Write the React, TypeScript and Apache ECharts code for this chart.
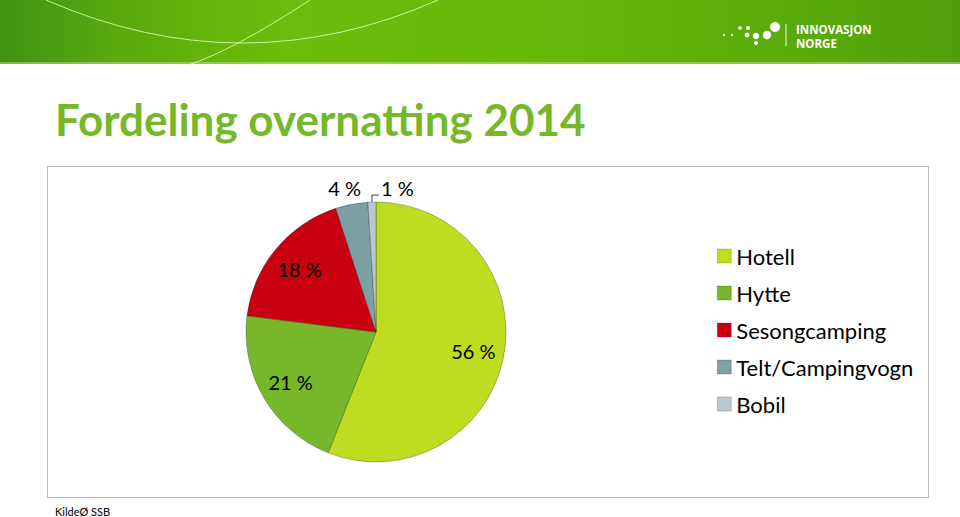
import React, { useEffect, useRef } from "react";
import * as echarts from "echarts";

const categories = ["Hotell", "Hytte", "Sesongcamping", "Telt/Campingvogn", "Bobil"];
const shares = [56, 21, 18, 4, 1];
const colors = ["#BEDD21", "#76B82A", "#C8000F", "#7F9FA6", "#B9C7D3"];
const titleText = "Fordeling overnatting 2014";
const sourceText = "KildeØ SSB";

const PIE_CX = 376;
const PIE_CY = 332;
const PIE_R = 130;
const FONT = "Lato, 'Open Sans', sans-serif";

function midAngle(i: number): number {
  const total = shares.reduce((a, b) => a + b, 0);
  let before = 0;
  for (let k = 0; k < i; k++) before += shares[k];
  return ((before + shares[i] / 2) / total) * Math.PI * 2;
}

function edgePoint(i: number): [number, number] {
  const a = midAngle(i);
  return [PIE_CX + PIE_R * Math.sin(a), PIE_CY - PIE_R * Math.cos(a)];
}

export default function App() {
  const ref = useRef<HTMLDivElement>(null);

  useEffect(() => {
    if (!ref.current) return;
    const chart = echarts.init(ref.current, null, { renderer: "svg" });

    const mainData = categories.map((name, i) => {
      const small = shares[i] < 10;
      return {
        name,
        value: shares[i],
        itemStyle: { color: colors[i] },
        label: { show: small, position: "outside" },
        labelLine: { show: i === 4 },
      };
    });

    const overlayData = categories.map((name, i) => ({
      name,
      value: shares[i],
      itemStyle: { color: "rgba(0,0,0,0)", borderWidth: 0 },
      label: { show: shares[i] >= 10 },
    }));

    const logoDots: [number, number, number][] = [
      [724, 35, 1.2],
      [732, 35, 1.2],
      [740, 28, 1.8],
      [748, 28, 2.0],
      [747, 35, 2.4],
      [756, 36, 3.2],
      [756, 43, 2.0],
      [767, 35, 4.2],
      [775, 27, 5.0],
    ];

    const option: any = {
      animation: false,
      backgroundColor: "#ffffff",
      legend: {
        orient: "vertical",
        left: 712,
        top: 240,
        itemWidth: 14,
        itemHeight: 14,
        itemGap: 15,
        icon: "rect",
        textStyle: { fontFamily: FONT, fontSize: 22, color: "#000", lineHeight: 22 },
        data: categories.map((name, i) => ({
          name,
          itemStyle: { color: colors[i], borderColor: "rgba(0,0,0,0.3)", borderWidth: 0.6 },
        })),
      },
      graphic: [
        {
          type: "rect",
          shape: { x: 0, y: 0, width: 960, height: 64 },
          style: {
            fill: new echarts.graphic.LinearGradient(0, 0, 1, 0, [
              { offset: 0, color: "#3F9313" },
              { offset: 0.12, color: "#58AA0E" },
              { offset: 0.3, color: "#6CBD0B" },
              { offset: 0.55, color: "#66B80A" },
              { offset: 0.8, color: "#5AAD0A" },
              { offset: 1, color: "#4F9F0C" },
            ]),
          },
          z: 0,
        },
        {
          type: "rect",
          shape: { x: 0, y: 62, width: 960, height: 2 },
          style: { fill: "rgba(200,235,150,0.45)" },
          z: 1,
        },
        {
          type: "bezierCurve",
          shape: { x1: 46, y1: 0, x2: 438, y2: 0, cpx1: 243, cpy1: 86 },
          style: { stroke: "rgba(225,250,180,0.85)", lineWidth: 1, fill: null },
          z: 2,
        },
        {
          type: "bezierCurve",
          shape: { x1: 310, y1: 0, x2: 188, y2: 65, cpx1: 232, cpy1: 51 },
          style: { stroke: "rgba(225,250,180,0.85)", lineWidth: 1, fill: null },
          z: 2,
        },
        ...logoDots.map(([x, y, r]) => ({
          type: "circle",
          shape: { cx: x, cy: y, r },
          style: { fill: "#ffffff" },
          z: 3,
        })),
        {
          type: "line",
          shape: { x1: 786, y1: 24, x2: 786, y2: 46 },
          style: { stroke: "rgba(255,255,255,0.9)", lineWidth: 1 },
          z: 3,
        },
        {
          type: "text",
          x: 796,
          y: 29.5,
          style: {
            text: "INNOVASJON",
            font: "bold 11.5px 'Open Sans', sans-serif",
            lineHeight: 12,
            fill: "#ffffff",
            verticalAlign: "middle",
          },
          z: 3,
        },
        {
          type: "text",
          x: 796,
          y: 43.5,
          style: {
            text: "NORGE",
            font: "bold 11.5px 'Open Sans', sans-serif",
            lineHeight: 12,
            fill: "#ffffff",
            verticalAlign: "middle",
          },
          z: 3,
        },
        {
          type: "text",
          x: 55,
          y: 119,
          style: {
            text: titleText,
            font: "bold 44px " + FONT,
            fill: "#76B82A",
            verticalAlign: "middle",
          },
          z: 3,
        },
        {
          type: "rect",
          shape: { x: 47.5, y: 166.5, width: 881, height: 331 },
          style: { fill: null, stroke: "#BDBDBD", lineWidth: 1 },
          z: -1,
        },
        {
          type: "text",
          x: 55,
          y: 511,
          style: {
            text: sourceText,
            font: "11px " + FONT,
            fill: "#000",
            verticalAlign: "middle",
          },
          z: 3,
        },
      ],
      series: [
        {
          type: "pie",
          center: [PIE_CX, PIE_CY],
          radius: PIE_R,
          startAngle: 90,
          clockwise: true,
          itemStyle: { borderColor: "rgba(40,40,40,0.55)", borderWidth: 0.6 },
          label: {
            fontFamily: FONT,
            fontSize: 20,
            color: "#000",
            formatter: "{c} %",
          },
          labelLine: {
            lineStyle: { color: "#404040", width: 1 },
          },
          labelLayout: (p: any) => {
            if (p.dataIndex === 3) {
              const [ex, ey] = edgePoint(3);
              return { x: ex - 7, y: ey - 16, align: "center", verticalAlign: "middle" };
            }
            if (p.dataIndex === 4) {
              const [ex, ey] = edgePoint(4);
              return {
                x: ex + 9,
                y: ey - 14,
                align: "left",
                verticalAlign: "middle",
                labelLinePoints: [
                  [ex, ey],
                  [ex, ey - 7],
                  [ex + 7, ey - 7],
                ],
              };
            }
            return {};
          },
          data: mainData,
          silent: true,
          z: 2,
        },
        {
          type: "pie",
          center: [PIE_CX, PIE_CY],
          radius: [0, PIE_R * 1.48],
          startAngle: 90,
          clockwise: true,
          silent: true,
          legendHoverLink: false,
          label: {
            position: "inside",
            fontFamily: FONT,
            fontSize: 20,
            color: "#000",
            formatter: "{c} %",
          },
          labelLine: { show: false },
          data: overlayData,
          z: 3,
        },
      ],
    };

    chart.setOption(option);
    return () => chart.dispose();
  }, []);

  return (
    <div
      ref={ref}
      style={{ position: "absolute", left: 0, top: 0, width: 960, height: 517 }}
    />
  );
}
